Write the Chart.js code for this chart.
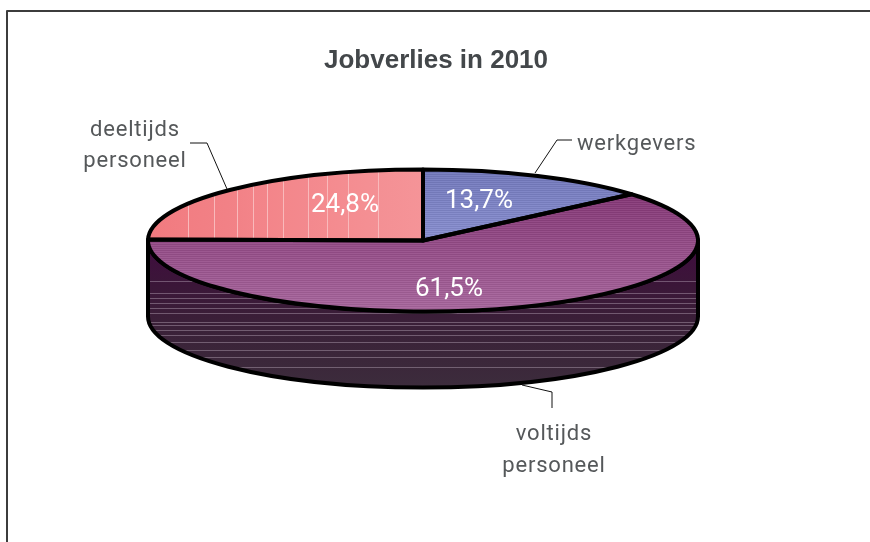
<!DOCTYPE html>
<html>
<head>
<meta charset="utf-8">
<title>Jobverlies in 2010</title>
<script src="https://cdn.jsdelivr.net/npm/chart.js@4"></script>
<style>
  body { margin: 0; background: #fff; }
  canvas { display: block; }
</style>
</head>
<body>
<canvas id="myChart" width="870" height="542"></canvas>
<script>
// data
const chartTitle = "Jobverlies in 2010";
const categories = ["werkgevers", "voltijds personeel", "deeltijds personeel"];
const shares = [13.7, 61.5, 24.8];

// look of the fake 3D pie
const centerX = 423;
const centerY = 240.5;
const pieRadius = 275;
const squash = 71 / 275;
const wallDepth = 76;
const lineColor = "#000";
const lineWidth = 4;
const textColor = "#55585a";

const percentSpots = [[479, 208], [449, 296], [345, 212]];
const labelSpots = [
    { x: 577, y: 150, align: "left", gap: 32 },
    { x: 554, y: 440, align: "center", gap: 32 },
    { x: 135, y: 136, align: "center", gap: 31 }
];
const leaders = [
    [[535, 173], [557, 140], [572, 140]],
    [[522, 385], [552, 392], [552, 408]],
    [[190, 143], [207, 143], [227, 189]]
];
const deeltijdsLines = [188, 214, 237, 253, 267, 283, 308, 327, 348, 378];
const wallLines = [281, 293, 298, 303, 308, 313, 322, 325, 330, 335, 342, 350, 357, 367];

const canvas = document.getElementById("myChart");
const ctx = canvas.getContext("2d");

function mix(a, b, t){
    const c = a.map((v, i) => Math.round(v + (b[i] - v) * t));
    return `rgb(${c[0]},${c[1]},${c[2]})`;
}

// y on screen -> y inside the squashed pie
function toPieY(y){
    return centerY + (y - centerY) / squash;
}

// horizontal stripes, every other pixel row a bit lighter
function stripedFill(top, bottom, from, to){
    const y0 = toPieY(top);
    const y1 = toPieY(bottom);
    const g = ctx.createLinearGradient(0, y0, 0, y1);
    const rows = bottom - top;
    for(let i = 0; i < rows; i++){
        const t = i / rows;
        const lift = i % 2 ? 14 : 0;
        const c = mix(from.map(v => v + lift), to.map(v => v + lift), t);
        g.addColorStop(i / rows, c);
        g.addColorStop((i + 1) / rows, c);
    }
    return g;
}

// left to right fade with thin light lines
function linedFill(left, right, from, to, lines, light){
    const g = ctx.createLinearGradient(left, 0, right, 0);
    const w = right - left;
    g.addColorStop(0, mix(from, to, 0));
    lines.forEach(x => {
        const t = (x - left) / w;
        const c = mix(from, to, t);
        g.addColorStop(t, c);
        g.addColorStop(t, light);
        g.addColorStop(t + 1 / w, light);
        g.addColorStop(t + 1 / w, c);
    });
    g.addColorStop(1, mix(from, to, 1));
    return g;
}

const sliceFills = [
    stripedFill(170, 242, [108, 114, 178], [130, 136, 198]),
    stripedFill(194, 313, [126, 52, 112], [160, 98, 150]),
    linedFill(148, 423, [241, 122, 127], [245, 148, 152], deeltijdsLines, "#f9b9bb")
];

function slicePath(c, arc){
    c.save();
    c.translate(arc.x, arc.y);
    c.scale(1, squash);
    c.translate(-arc.x, -arc.y);
    c.beginPath();
    c.moveTo(arc.x, arc.y);
    c.arc(arc.x, arc.y, arc.outerRadius, arc.startAngle, arc.endAngle);
    c.closePath();
    c.restore();
}

// side of the pie, only the front half can be seen
function drawWall(c, arc){
    const from = Math.max(arc.startAngle, 0);
    const to = Math.min(arc.endAngle, Math.PI);
    if(from >= to) return;
    const rx = arc.outerRadius;
    const ry = rx * squash;
    c.beginPath();
    c.ellipse(arc.x, arc.y, rx, ry, 0, from, to);
    c.ellipse(arc.x, arc.y + wallDepth, rx, ry, 0, to, from, true);
    c.closePath();

    const g = c.createLinearGradient(0, arc.y, 0, arc.y + ry + wallDepth);
    g.addColorStop(0, "#400c40");
    g.addColorStop(0.3, "#3b1638");
    g.addColorStop(0.6, "#3a2138");
    g.addColorStop(1, "#3c2c3c");
    c.fillStyle = g;
    c.fill();

    c.save();
    c.clip();
    c.fillStyle = "rgba(190,175,190,0.42)";
    wallLines.forEach(y => c.fillRect(arc.x - rx, y, rx * 2, 1));
    c.restore();

    c.strokeStyle = lineColor;
    c.lineWidth = lineWidth;
    c.lineJoin = "round";
    c.stroke();
}

const fakePie = {
    id: "fakePie",
    beforeDatasetsDraw(chart){
        const c = chart.ctx;
        const arcs = chart.getDatasetMeta(0).data;
        arcs.forEach(a => drawWall(c, a));
        c.save();
        c.translate(arcs[0].x, arcs[0].y);
        c.scale(1, squash);
        c.translate(-arcs[0].x, -arcs[0].y);
    },
    afterDatasetsDraw(chart){
        const c = chart.ctx;
        c.restore();
        chart.getDatasetMeta(0).data.forEach(a => {
            slicePath(c, a);
            c.strokeStyle = lineColor;
            c.lineWidth = lineWidth;
            c.lineJoin = "round";
            c.stroke();
        });
    },
    afterDraw(chart){
        const c = chart.ctx;
        c.save();

        // frame, runs off the picture right and below
        c.strokeStyle = "#3c3c3c";
        c.lineWidth = 2;
        c.beginPath();
        c.moveTo(7, 542);
        c.lineTo(7, 11);
        c.lineTo(870, 11);
        c.stroke();

        // title
        c.fillStyle = "#43474a";
        c.font = "bold 26px 'Liberation Sans'";
        c.textAlign = "center";
        c.fillText(chartTitle, 436, 68);

        // leaders
        c.strokeStyle = "#111";
        c.lineWidth = 1;
        leaders.forEach(pts => {
            c.beginPath();
            pts.forEach((p, i) => i ? c.lineTo(p[0], p[1]) : c.moveTo(p[0], p[1]));
            c.stroke();
        });

        // category labels
        c.font = "400 22px Roboto";
        c.letterSpacing = "0.8px";
        c.fillStyle = textColor;
        categories.forEach((name, i) => {
            const spot = labelSpots[i];
            c.textAlign = spot.align;
            name.split(" ").forEach((word, n) => c.fillText(word, spot.x, spot.y + n * spot.gap));
        });

        // percentages
        c.font = "400 26px Roboto";
        c.letterSpacing = "0px";
        c.fillStyle = "#fff";
        c.textAlign = "center";
        shares.forEach((v, i) => {
            c.fillText(v.toFixed(1).replace(".", ",") + "%", percentSpots[i][0], percentSpots[i][1]);
        });
        c.restore();
    }
};

new Chart(canvas, {
    type: "pie",
    data: {
        labels: categories,
        datasets: [{
            data: shares,
            backgroundColor: sliceFills,
            borderWidth: 0,
            clip: false
        }]
    },
    options: {
        responsive: false,
        animation: false,
        devicePixelRatio: 1,
        radius: pieRadius,
        // puts the pie centre on centerX / centerY
        layout: { padding: { left: 0, right: 870 - centerX * 2, top: 0, bottom: 542 - centerY * 2 } },
        plugins: {
            legend: { display: false },
            tooltip: { enabled: false }
        }
    },
    plugins: [fakePie]
});
</script>
</body>
</html>
